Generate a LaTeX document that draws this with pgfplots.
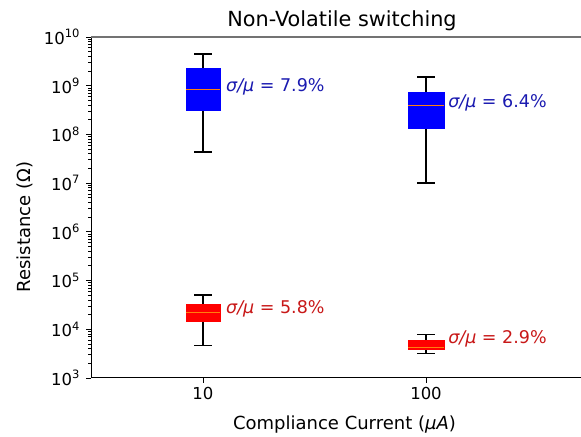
\documentclass[border=0pt]{standalone}
\usepackage{fontspec}
\setmainfont{DejaVu Sans}
\usepackage{pgfplots}
\pgfplotsset{compat=1.18}
\definecolor{annblue}{HTML}{1A1AB0}
\definecolor{annred}{HTML}{C81818}
\definecolor{medorange}{HTML}{FF7F0E}
\newcommand{\fs}{\fontsize{16.5bp}{19bp}\selectfont}
\newcommand{\fa}{\fontsize{17.5bp}{20bp}\selectfont}
\newcommand{\fl}{\fontsize{18bp}{21bp}\selectfont}
\newcommand{\ft}{\fontsize{20.8bp}{24bp}\selectfont}
\newcommand{\sups}[1]{10\raisebox{0.72ex}{\fontsize{11.5bp}{13bp}\selectfont #1}}
\pgfplotsset{
  whisk/.style={black, line width=1.5bp, mark=none},
  med/.style={medorange, line width=1bp, mark=none},
}
\begin{document}
\begin{tikzpicture}[x=1bp,y=1bp]
\path[use as bounding box] (0,0) rectangle (581,437);
\begin{axis}[
  at={(91bp,59bp)}, anchor=south west,
  width=490bp, height=341bp, scale only axis,
  xmin=0.4978, xmax=2.6951,
  ymode=log, ymin=1e3, ymax=1e10,
  axis x line*=box, axis y line*=left,
  xtick={1,2}, xticklabels={10,100},
  ytick={1e3,1e4,1e5,1e6,1e7,1e8,1e9,1e10},
  yticklabels={\sups{3},\sups{4},\sups{5},\sups{6},\sups{7},\sups{8},\sups{9},\sups{10}},
  minor ytick={2e3,3e3,4e3,5e3,6e3,7e3,8e3,9e3,2e4,3e4,4e4,5e4,6e4,7e4,8e4,9e4,2e5,3e5,4e5,5e5,6e5,7e5,8e5,9e5,2e6,3e6,4e6,5e6,6e6,7e6,8e6,9e6,2e7,3e7,4e7,5e7,6e7,7e7,8e7,9e7,2e8,3e8,4e8,5e8,6e8,7e8,8e8,9e8,2e9,3e9,4e9,5e9,6e9,7e9,8e9,9e9},
  tick pos=left,
  tick align=outside,
  major tick length=5bp, minor tick length=3bp,
  every tick/.style={black, line width=0.8bp},
  tick label style={font=\fs},
  yticklabel style={xshift=-3bp},
  xticklabel style={yshift=-1bp},
  x axis line style={black, line width=1bp},
  y axis line style={black, line width=1bp},
  clip=false,
]
% box 1 (10 uA, high)
\addplot[whisk] coordinates {(1,2.3e9) (1,4.5e9)};
\addplot[whisk] coordinates {(0.96,4.5e9) (1.04,4.5e9)};
\addplot[whisk] coordinates {(1,3.2e8) (1,4.4e7)};
\addplot[whisk] coordinates {(0.96,4.4e7) (1.04,4.4e7)};
\addplot[fill=blue, draw=blue, mark=none] coordinates {(0.9225,3.2e8) (1.0775,3.2e8) (1.0775,2.3e9) (0.9225,2.3e9)} -- cycle;
\addplot[med] coordinates {(0.9225,8.5e8) (1.0775,8.5e8)};
% box 2 (100 uA, high)
\addplot[whisk] coordinates {(2,7.4e8) (2,1.5e9)};
\addplot[whisk] coordinates {(1.96,1.5e9) (2.04,1.5e9)};
\addplot[whisk] coordinates {(2,1.35e8) (2,1.0e7)};
\addplot[whisk] coordinates {(1.96,1.0e7) (2.04,1.0e7)};
\addplot[fill=blue, draw=blue, mark=none] coordinates {(1.92,1.35e8) (2.08,1.35e8) (2.08,7.4e8) (1.92,7.4e8)} -- cycle;
\addplot[med] coordinates {(1.92,4.0e8) (2.08,4.0e8)};
% box 3 (10 uA, low)
\addplot[whisk] coordinates {(1,3.2e4) (1,5.0e4)};
\addplot[whisk] coordinates {(0.96,5.0e4) (1.04,5.0e4)};
\addplot[whisk] coordinates {(1,1.5e4) (1,4.6e3)};
\addplot[whisk] coordinates {(0.96,4.6e3) (1.04,4.6e3)};
\addplot[fill=red, draw=red, mark=none] coordinates {(0.9225,1.5e4) (1.0775,1.5e4) (1.0775,3.2e4) (0.9225,3.2e4)} -- cycle;
\addplot[med] coordinates {(0.9225,2.2e4) (1.0775,2.2e4)};
% box 4 (100 uA, low)
\addplot[whisk] coordinates {(2,6.0e3) (2,7.9e3)};
\addplot[whisk] coordinates {(1.96,7.9e3) (2.04,7.9e3)};
\addplot[whisk] coordinates {(2,3.9e3) (2,3.2e3)};
\addplot[whisk] coordinates {(1.96,3.2e3) (2.04,3.2e3)};
\addplot[fill=red, draw=red, mark=none] coordinates {(1.92,3.9e3) (2.08,3.9e3) (2.08,6.0e3) (1.92,6.0e3)} -- cycle;
\addplot[med] coordinates {(1.92,4.3e3) (2.08,4.3e3)};
\node[anchor=west, text=annblue, font=\fa, inner sep=0pt] at (axis cs:1.103,9.4e8) {\textit{σ/μ} = 7.9\%};
\node[anchor=west, text=annblue, font=\fa, inner sep=0pt] at (axis cs:2.099,4.4e8) {\textit{σ/μ} = 6.4\%};
\node[anchor=west, text=annred, font=\fa, inner sep=0pt] at (axis cs:1.103,2.6e4) {\textit{σ/μ} = 5.8\%};
\node[anchor=west, text=annred, font=\fa, inner sep=0pt] at (axis cs:2.099,6.3e3) {\textit{σ/μ} = 2.9\%};
\draw[black!55, line width=1.2bp] (rel axis cs:0,1) -- (rel axis cs:1,1);
\end{axis}
\node[font=\ft, anchor=base, inner sep=0pt] at (342,410) {Non-Volatile switching};
\node[font=\fl, anchor=base, inner sep=0pt] at (344.5,7.5) {Compliance Current (\textit{μA})};
\node[font=\fl, rotate=90] at (25,210) {Resistance (Ω)};
\end{tikzpicture}
\end{document}
